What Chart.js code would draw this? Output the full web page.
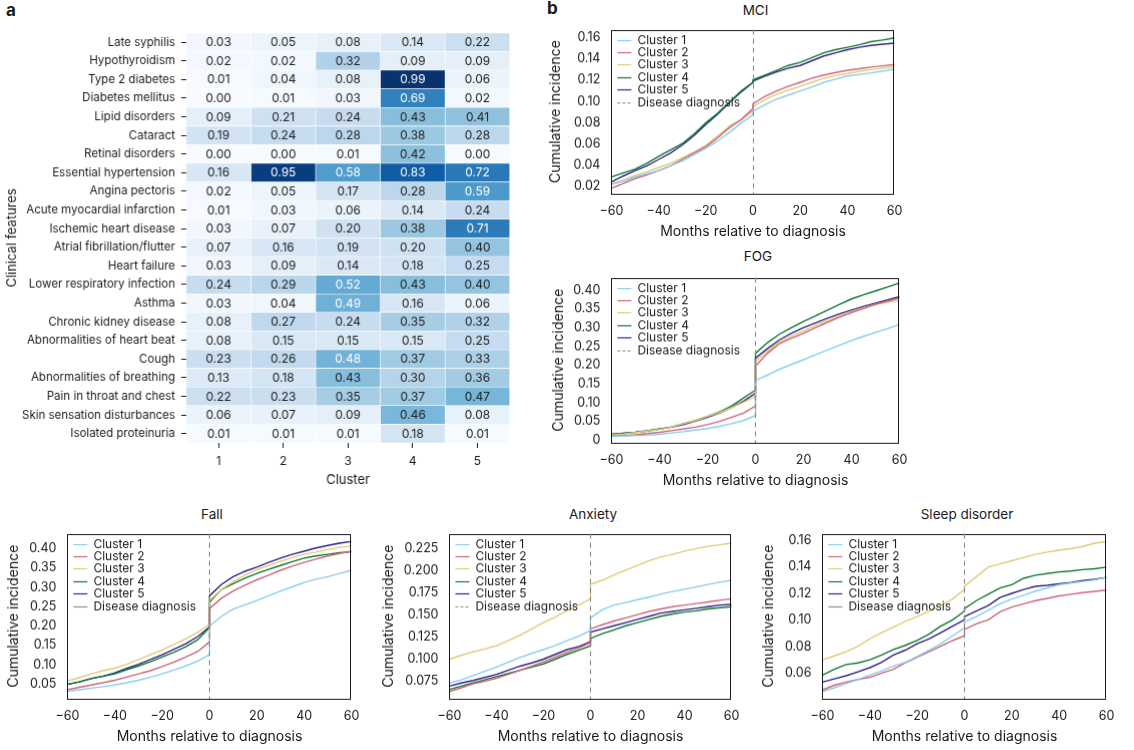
<!DOCTYPE html>
<html>
<head>
<meta charset="utf-8">
<script src="https://cdn.jsdelivr.net/npm/chart.js@4.4.0/dist/chart.umd.min.js"></script>
<style>
  body { margin: 0; background: #fff; width: 1134px; height: 750px; position: relative; overflow: hidden;
         font-family: Inter, "Noto Sans", sans-serif; color: #1a1a1a; }
  .box { position: absolute; }
  .title { position: absolute; font-size: 13.5px; transform: translate(-50%, -50%); white-space: nowrap; }
  .panel { position: absolute; font-weight: bold; font-size: 17px; }
</style>
</head>
<body>
<div class="panel" style="left:6px;top:0px">a</div>
<div class="panel" style="left:547px;top:-2px">b</div>
<script>
// ---- heatmap data (panel a) ----
const features = ["Late syphilis", "Hypothyroidism", "Type 2 diabetes", "Diabetes mellitus", "Lipid disorders",
  "Cataract", "Retinal disorders", "Essential hypertension", "Angina pectoris", "Acute myocardial infarction",
  "Ischemic heart disease", "Atrial fibrillation/flutter", "Heart failure", "Lower respiratory infection",
  "Asthma", "Chronic kidney disease", "Abnormalities of heart beat", "Cough", "Abnormalities of breathing",
  "Pain in throat and chest", "Skin sensation disturbances", "Isolated proteinuria"];
const clusterNumbers = [1, 2, 3, 4, 5];
const cluster1 = [0.03, 0.02, 0.01, 0.00, 0.09, 0.19, 0.00, 0.16, 0.02, 0.01, 0.03, 0.07, 0.03, 0.24, 0.03, 0.08, 0.08, 0.23, 0.13, 0.22, 0.06, 0.01];
const cluster2 = [0.05, 0.02, 0.04, 0.01, 0.21, 0.24, 0.00, 0.95, 0.05, 0.03, 0.07, 0.16, 0.09, 0.29, 0.04, 0.27, 0.15, 0.26, 0.18, 0.23, 0.07, 0.01];
const cluster3 = [0.08, 0.32, 0.08, 0.03, 0.24, 0.28, 0.01, 0.58, 0.17, 0.06, 0.20, 0.19, 0.14, 0.52, 0.49, 0.24, 0.15, 0.48, 0.43, 0.35, 0.09, 0.01];
const cluster4 = [0.14, 0.09, 0.99, 0.69, 0.43, 0.38, 0.42, 0.83, 0.28, 0.14, 0.38, 0.20, 0.18, 0.43, 0.16, 0.35, 0.15, 0.37, 0.30, 0.37, 0.46, 0.18];
const cluster5 = [0.22, 0.09, 0.06, 0.02, 0.41, 0.28, 0.00, 0.72, 0.59, 0.24, 0.71, 0.40, 0.25, 0.40, 0.06, 0.32, 0.25, 0.33, 0.36, 0.47, 0.08, 0.01];

// ---- cumulative incidence data (panel b) ----
const clusterNames = ["Cluster 1", "Cluster 2", "Cluster 3", "Cluster 4", "Cluster 5"];
const clusterColors = ["#88CCEE", "#CC6677", "#DDCC77", "#117733", "#332288"];
const DIAGNOSIS_MONTH = 0;
// months; 0 appears twice: just before and just after diagnosis
const months = [-60, -55, -50, -45, -40, -35, -30, -25, -20, -15, -10, -5, 0, 0, 5, 10, 15, 20, 25, 30, 35, 40, 45, 50, 55, 60];
const monthTicks = [-60, -40, -20, 0, 20, 40, 60];
const monthTickLabels = ["\u221260", "\u221240", "\u221220", "0", "20", "40", "60"];

const mciSeries = [
  [0.0212, 0.0242, 0.0282, 0.0312, 0.0342, 0.0387, 0.0432, 0.0493, 0.0553, 0.0622, 0.0704, 0.0794, 0.0870, 0.0906, 0.0966, 0.1021, 0.1057, 0.1096, 0.1135, 0.1178, 0.1208, 0.1238, 0.1253, 0.1268, 0.1286, 0.1304],
  [0.0176, 0.0221, 0.0267, 0.0303, 0.0342, 0.0387, 0.0448, 0.0508, 0.0568, 0.0653, 0.0749, 0.0825, 0.0930, 0.0975, 0.1045, 0.1096, 0.1141, 0.1178, 0.1217, 0.1247, 0.1271, 0.1292, 0.1307, 0.1322, 0.1334, 0.1347],
  [0.0221, 0.0251, 0.0297, 0.0333, 0.0372, 0.0411, 0.0463, 0.0517, 0.0583, 0.0668, 0.0764, 0.0825, 0.0906, 0.0945, 0.1015, 0.1066, 0.1105, 0.1141, 0.1178, 0.1217, 0.1241, 0.1262, 0.1283, 0.1298, 0.1313, 0.1328],
  [0.0282, 0.0321, 0.0357, 0.0411, 0.0478, 0.0538, 0.0598, 0.0689, 0.0794, 0.0885, 0.0991, 0.1096, 0.1178, 0.1202, 0.1247, 0.1292, 0.1338, 0.1368, 0.1413, 0.1458, 0.1488, 0.1510, 0.1534, 0.1564, 0.1579, 0.1600],
  [0.0236, 0.0291, 0.0342, 0.0387, 0.0448, 0.0508, 0.0583, 0.0674, 0.0779, 0.0876, 0.0985, 0.1087, 0.1178, 0.1190, 0.1238, 0.1277, 0.1313, 0.1338, 0.1383, 0.1428, 0.1458, 0.1488, 0.1510, 0.1528, 0.1540, 0.1549]
];
const fogSeries = [
  [0.0093, 0.0102, 0.0119, 0.0127, 0.0152, 0.0187, 0.0221, 0.0264, 0.0306, 0.0366, 0.0434, 0.0520, 0.0647, 0.1586, 0.1731, 0.1885, 0.2012, 0.2140, 0.2268, 0.2396, 0.2524, 0.2652, 0.2763, 0.2866, 0.2968, 0.3079],
  [0.0110, 0.0119, 0.0136, 0.0170, 0.0204, 0.0247, 0.0290, 0.0341, 0.0409, 0.0494, 0.0605, 0.0716, 0.0904, 0.1970, 0.2311, 0.2567, 0.2712, 0.2848, 0.2993, 0.3138, 0.3275, 0.3394, 0.3505, 0.3616, 0.3701, 0.3787],
  [0.0136, 0.0161, 0.0196, 0.0238, 0.0280, 0.0349, 0.0434, 0.0520, 0.0630, 0.0733, 0.0861, 0.1006, 0.1160, 0.2098, 0.2370, 0.2610, 0.2763, 0.2908, 0.3053, 0.3190, 0.3309, 0.3420, 0.3522, 0.3616, 0.3676, 0.3718],
  [0.0152, 0.0178, 0.0204, 0.0238, 0.0290, 0.0349, 0.0434, 0.0520, 0.0630, 0.0750, 0.0904, 0.1117, 0.1330, 0.2310, 0.2593, 0.2823, 0.2993, 0.3164, 0.3309, 0.3463, 0.3616, 0.3761, 0.3872, 0.3974, 0.4077, 0.4188],
  [0.0152, 0.0178, 0.0204, 0.0247, 0.0290, 0.0341, 0.0409, 0.0503, 0.0605, 0.0716, 0.0861, 0.1032, 0.1245, 0.2183, 0.2439, 0.2669, 0.2848, 0.2993, 0.3121, 0.3249, 0.3360, 0.3463, 0.3565, 0.3650, 0.3736, 0.3821]
];
const fallSeries = [
  [0.0304, 0.0345, 0.0387, 0.0428, 0.0469, 0.0527, 0.0593, 0.0676, 0.0758, 0.0857, 0.0964, 0.1088, 0.1253, 0.1996, 0.2243, 0.2433, 0.2548, 0.2655, 0.2779, 0.2903, 0.3010, 0.3126, 0.3208, 0.3274, 0.3357, 0.3439],
  [0.0345, 0.0411, 0.0469, 0.0527, 0.0593, 0.0676, 0.0758, 0.0840, 0.0948, 0.1063, 0.1195, 0.1335, 0.1583, 0.2449, 0.2713, 0.2903, 0.3051, 0.3192, 0.3315, 0.3439, 0.3546, 0.3645, 0.3728, 0.3810, 0.3876, 0.3934],
  [0.0576, 0.0659, 0.0758, 0.0840, 0.0906, 0.1005, 0.1129, 0.1253, 0.1377, 0.1517, 0.1665, 0.1830, 0.2036, 0.2655, 0.2944, 0.3150, 0.3315, 0.3455, 0.3563, 0.3670, 0.3769, 0.3852, 0.3909, 0.3975, 0.4033, 0.4074],
  [0.0486, 0.0552, 0.0634, 0.0692, 0.0758, 0.0865, 0.0964, 0.1071, 0.1195, 0.1319, 0.1459, 0.1640, 0.1954, 0.2614, 0.2944, 0.3093, 0.3233, 0.3357, 0.3464, 0.3563, 0.3662, 0.3753, 0.3810, 0.3852, 0.3893, 0.3917],
  [0.0486, 0.0552, 0.0634, 0.0700, 0.0783, 0.0898, 0.1005, 0.1129, 0.1253, 0.1393, 0.1541, 0.1723, 0.1970, 0.2779, 0.3068, 0.3274, 0.3414, 0.3522, 0.3645, 0.3753, 0.3852, 0.3934, 0.4017, 0.4083, 0.4140, 0.4182]
];
const anxietySeries = [
  [0.0728, 0.0764, 0.0811, 0.0861, 0.0908, 0.0962, 0.1016, 0.1063, 0.1106, 0.1153, 0.1207, 0.1257, 0.1322, 0.1466, 0.1556, 0.1610, 0.1639, 0.1671, 0.1700, 0.1736, 0.1764, 0.1790, 0.1815, 0.1844, 0.1869, 0.1890],
  [0.0631, 0.0674, 0.0718, 0.0746, 0.0782, 0.0826, 0.0872, 0.0919, 0.0969, 0.1023, 0.1077, 0.1124, 0.1185, 0.1340, 0.1387, 0.1430, 0.1466, 0.1502, 0.1538, 0.1567, 0.1592, 0.1610, 0.1628, 0.1646, 0.1664, 0.1682],
  [0.0998, 0.1041, 0.1081, 0.1113, 0.1150, 0.1207, 0.1268, 0.1340, 0.1412, 0.1473, 0.1545, 0.1610, 0.1682, 0.1844, 0.1890, 0.1951, 0.2005, 0.2059, 0.2113, 0.2156, 0.2185, 0.2221, 0.2250, 0.2275, 0.2293, 0.2311],
  [0.0656, 0.0692, 0.0728, 0.0764, 0.0800, 0.0836, 0.0872, 0.0908, 0.0944, 0.0998, 0.1052, 0.1099, 0.1149, 0.1232, 0.1286, 0.1329, 0.1376, 0.1412, 0.1448, 0.1484, 0.1509, 0.1531, 0.1545, 0.1567, 0.1581, 0.1592],
  [0.0693, 0.0728, 0.0757, 0.0790, 0.0826, 0.0872, 0.0919, 0.0955, 0.0998, 0.1052, 0.1106, 0.1142, 0.1196, 0.1304, 0.1340, 0.1376, 0.1412, 0.1448, 0.1484, 0.1520, 0.1538, 0.1556, 0.1574, 0.1592, 0.1610, 0.1617]
];
const sleepSeries = [
  [0.0460, 0.0489, 0.0520, 0.0551, 0.0585, 0.0616, 0.0652, 0.0681, 0.0724, 0.0772, 0.0820, 0.0880, 0.0940, 0.0983, 0.1024, 0.1072, 0.1120, 0.1156, 0.1185, 0.1216, 0.1240, 0.1264, 0.1276, 0.1288, 0.1300, 0.1319],
  [0.0472, 0.0508, 0.0532, 0.0551, 0.0568, 0.0599, 0.0628, 0.0676, 0.0719, 0.0760, 0.0801, 0.0844, 0.0880, 0.0928, 0.0969, 0.1000, 0.1060, 0.1096, 0.1120, 0.1144, 0.1161, 0.1180, 0.1192, 0.1204, 0.1214, 0.1223],
  [0.0700, 0.0729, 0.0760, 0.0801, 0.0856, 0.0904, 0.0945, 0.0988, 0.1024, 0.1065, 0.1108, 0.1156, 0.1228, 0.1252, 0.1324, 0.1396, 0.1420, 0.1444, 0.1468, 0.1492, 0.1509, 0.1523, 0.1535, 0.1552, 0.1576, 0.1588],
  [0.0585, 0.0628, 0.0664, 0.0676, 0.0700, 0.0736, 0.0777, 0.0808, 0.0844, 0.0892, 0.0952, 0.1000, 0.1065, 0.1084, 0.1144, 0.1192, 0.1240, 0.1264, 0.1312, 0.1336, 0.1348, 0.1360, 0.1367, 0.1377, 0.1384, 0.1396],
  [0.0532, 0.0556, 0.0580, 0.0609, 0.0640, 0.0681, 0.0736, 0.0772, 0.0820, 0.0856, 0.0904, 0.0952, 0.1000, 0.1024, 0.1065, 0.1108, 0.1168, 0.1199, 0.1228, 0.1252, 0.1259, 0.1271, 0.1281, 0.1295, 0.1305, 0.1319]
];

const mciTickLabels = ["0.02", "0.04", "0.06", "0.08", "0.10", "0.12", "0.14", "0.16"];
const fogTickLabels = ["0", "0.05", "0.10", "0.15", "0.20", "0.25", "0.30", "0.35", "0.40"];
const fallTickLabels = ["0.05", "0.10", "0.15", "0.20", "0.25", "0.30", "0.35", "0.40"];
const anxietyTickLabels = ["0.075", "0.100", "0.125", "0.150", "0.175", "0.200", "0.225"];
const sleepTickLabels = ["0.06", "0.08", "0.10", "0.12", "0.14", "0.16"];

const mciRange = [0.0122, 0.1678];
const fogRange = [-0.0077, 0.433];
const fallRange = [0.0112, 0.4388];
const anxietyRange = [0.0549, 0.2419];
const sleepRange = [0.0406, 0.1648];

const TEXT = "#1a1a1a";
const FONT = "Inter, 'Noto Sans', sans-serif";
Chart.defaults.font.family = FONT;
Chart.defaults.color = TEXT;

function makeCanvas(left, top, width, height) {
  const div = document.createElement("div");
  div.className = "box";
  div.style.left = left + "px";
  div.style.top = top + "px";
  div.style.width = width + "px";
  div.style.height = height + "px";
  const canvas = document.createElement("canvas");
  div.appendChild(canvas);
  document.body.appendChild(div);
  return canvas;
}

function addTitle(text, x, y) {
  const el = document.createElement("div");
  el.className = "title";
  el.style.left = x + "px";
  el.style.top = y + "px";
  el.textContent = text;
  document.body.appendChild(el);
}

// Blues colour map for the heatmap
const BLUES = ["#f7fbff", "#deebf7", "#c6dbef", "#9ecae1", "#6baed6", "#4292c6", "#2171b5", "#08519c", "#08306b"];
function blues(v) {
  const t = Math.min(Math.max(v, 0), 1) * (BLUES.length - 1);
  const i = Math.min(Math.floor(t), BLUES.length - 2);
  const f = t - i;
  const a = BLUES[i], b = BLUES[i + 1];
  const ch = (h, k) => parseInt(h.substr(1 + 2 * k, 2), 16);
  const c = [0, 1, 2].map(k => Math.round(ch(a, k) + (ch(b, k) - ch(a, k)) * f));
  return `rgb(${c[0]},${c[1]},${c[2]})`;
}

const framePlugin = {
  id: "frame",
  afterDatasetsDraw(chart) {
    const { ctx, chartArea: a } = chart;
    ctx.save();
    ctx.strokeStyle = TEXT;
    ctx.lineWidth = 1;
    ctx.strokeRect(Math.round(a.left) + 0.5, Math.round(a.top) + 0.5,
      Math.round(a.right - a.left) - 1, Math.round(a.bottom - a.top) - 1);
    ctx.restore();
  }
};

const diagnosisPlugin = {
  id: "diagnosis",
  afterDatasetsDraw(chart) {
    const { ctx, chartArea: a } = chart;
    const x = Math.round(chart.scales.x.getPixelForValue(DIAGNOSIS_MONTH)) + 0.5;
    ctx.save();
    ctx.strokeStyle = "#8a8a8a";
    ctx.lineWidth = 1.1;
    ctx.setLineDash([5, 4]);
    ctx.beginPath();
    ctx.moveTo(x, a.top);
    ctx.lineTo(x, a.bottom);
    ctx.stroke();
    ctx.restore();
  }
};

const legendPlugin = {
  id: "insideLegend",
  afterDraw(chart, args, opts) {
    const { ctx, chartArea: a } = chart;
    const entries = chart.data.datasets.map(d => ({ label: d.label, color: d.borderColor, dash: [] }));
    entries.push({ label: "Disease diagnosis", color: "#8a8a8a", dash: opts.solidDiag ? [] : [3, 2] });
    ctx.save();
    ctx.font = "12px " + FONT;
    ctx.textBaseline = "middle";
    entries.forEach((e, i) => {
      const y = Math.round(a.top + 10 + i * 12.4) + 0.5;
      ctx.strokeStyle = e.color;
      ctx.lineWidth = 1.2;
      ctx.setLineDash(e.dash);
      ctx.beginPath();
      ctx.moveTo(a.left + 6, y);
      ctx.lineTo(a.left + 20, y);
      ctx.stroke();
      ctx.fillStyle = TEXT;
      ctx.fillText(e.label, a.left + 26, y);
    });
    ctx.restore();
  }
};

function lineChart(title, series, tickLabels, range, box, solidDiag) {
  const left = box.yTitleX - 8.4;
  const top = box.t - 10;
  const width = box.r - left + 12;
  const height = box.b + 45.9 - top;
  const yAxisW = box.l - left;
  addTitle(title, (box.l + box.r) / 2, box.titleY);
  const canvas = makeCanvas(left, top, width, height);
  const yTicks = tickLabels.map(Number);
  new Chart(canvas, {
    type: "line",
    data: {
      datasets: series.map((s, i) => ({
        label: clusterNames[i],
        data: months.map((m, j) => ({ x: m, y: s[j] })),
        borderColor: clusterColors[i],
        borderWidth: 1.4,
        pointRadius: 0,
        tension: 0,
        fill: false
      }))
    },
    options: {
      animation: false,
      responsive: true,
      maintainAspectRatio: false,
      layout: { padding: { top: 10, right: 12, left: 0, bottom: 0 } },
      plugins: { legend: { display: false }, tooltip: { enabled: false }, insideLegend: { solidDiag } },
      scales: {
        x: {
          type: "linear", min: -60, max: 60,
          afterBuildTicks: s => { s.ticks = monthTicks.map(v => ({ value: v })); },
          afterFit: s => { s.height = 45.9; },
          grid: { display: false, drawTicks: false },
          border: { display: false },
          ticks: { font: { size: 12.5 }, padding: 10, maxRotation: 0, autoSkip: false,
                   callback: (v, i) => monthTickLabels[i] },
          title: { display: true, text: "Months relative to diagnosis", font: { size: 14 }, padding: 0 }
        },
        y: {
          type: "linear", min: range[0], max: range[1],
          afterBuildTicks: s => { s.ticks = yTicks.map(v => ({ value: v })); },
          afterFit: s => { s.width = yAxisW; },
          grid: { display: false, drawTicks: false },
          border: { display: false },
          ticks: { font: { size: 12.5 }, padding: 11, autoSkip: false, callback: (v, i) => tickLabels[i] },
          title: { display: true, text: "Cumulative incidence", font: { size: 14 }, padding: 0 }
        }
      }
    },
    plugins: [framePlugin, diagnosisPlugin, legendPlugin]
  });
}

// ---- heatmap ----
const heatLabelPlugin = {
  id: "cellLabels",
  afterDatasetsDraw(chart) {
    const ctx = chart.ctx;
    ctx.save();
    ctx.font = "12px " + FONT;
    ctx.textAlign = "center";
    ctx.textBaseline = "middle";
    chart.data.datasets.forEach((ds, di) => {
      chart.getDatasetMeta(di).data.forEach((el, i) => {
        const v = ds.values[i];
        const p = el.getCenterPoint();
        ctx.fillStyle = v > 0.475 ? "#ffffff" : "#222222";
        ctx.fillText(v.toFixed(2), p.x, p.y + 0.5);
      });
    });
    ctx.restore();
  }
};

(function heatmap() {
  const plot = { l: 186, t: 31, r: 509, b: 442 };
  const left = 12 - 7.8, top = 20;
  const canvas = makeCanvas(left, top, plot.r - left + 20, plot.b + 44.5 - top);
  const columns = [cluster1, cluster2, cluster3, cluster4, cluster5];
  new Chart(canvas, {
    type: "bar",
    data: {
      labels: features,
      datasets: columns.map((vals, ci) => ({
        label: "Cluster " + clusterNumbers[ci],
        values: vals,
        data: vals.map(() => [clusterNumbers[ci] - 0.5, clusterNumbers[ci] + 0.5]),
        backgroundColor: vals.map(blues),
        borderColor: "#ffffff",
        borderWidth: 0.6,
        borderSkipped: false,
        grouped: false,
        barPercentage: 1,
        categoryPercentage: 1
      }))
    },
    options: {
      indexAxis: "y",
      animation: false,
      responsive: true,
      maintainAspectRatio: false,
      layout: { padding: { top: plot.t - top, right: 20, left: 0, bottom: 0 } },
      plugins: { legend: { display: false }, tooltip: { enabled: false } },
      scales: {
        y: {
          type: "category",
          afterFit: s => { s.width = plot.l - left; },
          grid: { offset: false, drawOnChartArea: false, drawTicks: true, tickLength: 5, color: TEXT },
          border: { display: false },
          ticks: { font: { size: 11.5 }, padding: 6, autoSkip: false },
          title: { display: true, text: "Clinical features", font: { size: 13 }, padding: 0 }
        },
        x: {
          type: "linear", min: 0.5, max: 5.5,
          afterBuildTicks: s => { s.ticks = clusterNumbers.map(v => ({ value: v })); },
          afterFit: s => { s.height = 44.5; },
          grid: { drawOnChartArea: false, drawTicks: true, tickLength: 5, color: TEXT },
          border: { display: false },
          ticks: { font: { size: 12 }, padding: 6 },
          title: { display: true, text: "Cluster", font: { size: 13 }, padding: 0 }
        }
      }
    },
    plugins: [heatLabelPlugin]
  });
})();

lineChart("MCI", mciSeries, mciTickLabels, mciRange, { l: 611, t: 21, r: 900, b: 193, yTitleX: 555, titleY: 10 }, false);
lineChart("FOG", fogSeries, fogTickLabels, fogRange, { l: 611, t: 269, r: 905, b: 442, yTitleX: 558, titleY: 256 }, false);
lineChart("Fall", fallSeries, fallTickLabels, fallRange, { l: 67, t: 525, r: 357, b: 698, yTitleX: 13, titleY: 514 }, true);
lineChart("Anxiety", anxietySeries, anxietyTickLabels, anxietyRange, { l: 449, t: 525, r: 737, b: 698, yTitleX: 388, titleY: 514 }, false);
lineChart("Sleep disorder", sleepSeries, sleepTickLabels, sleepRange, { l: 822, t: 525, r: 1112, b: 698, yTitleX: 768, titleY: 514 }, true);
</script>
</body>
</html>
